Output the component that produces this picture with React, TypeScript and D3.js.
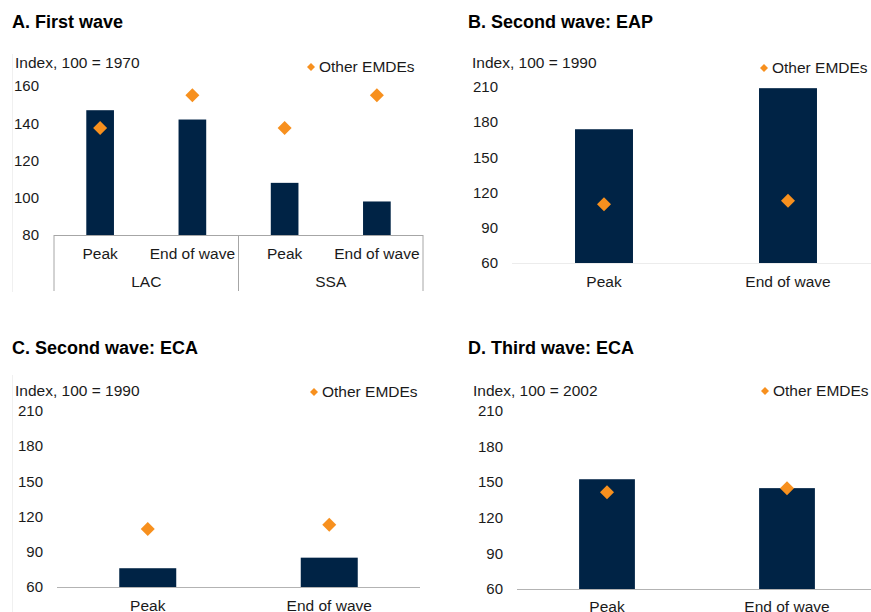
import React from "react";
import * as d3 from "d3";

const NAVY = "#002345";
const ORANGE = "#F7901E";
const FONT = "'Liberation Sans', Arial, sans-serif";

// Panel A
const aCategories = ["LAC|Peak", "LAC|End of wave", "SSA|Peak", "SSA|End of wave"];
const aBars = [147, 142, 108, 98];
const aOther = [137.5, 155, 137.5, 155];
const aTicks = [80, 100, 120, 140, 160];
const aGroups = ["LAC", "SSA"];

// Panels B, C, D
const waveCategories = ["Peak", "End of wave"];
const bBars = [174, 209];
const bOther = [110, 113];
const cBars = [76, 85];
const cOther = [109.5, 113];
const dBars = [152.5, 145];
const dOther = [141.5, 145];
const bcdTicks = [60, 90, 120, 150, 180, 210];

const diamondBig = d3.symbol(d3.symbolSquare, 98)() as string;
const diamondSmall = d3.symbol(d3.symbolSquare, 32)() as string;

type PanelProps = {
  title: string;
  titleX: number;
  titleY: number;
  subtitle: string;
  subX: number;
  subY: number;
  legX: number;
  legY: number;
  cats: string[];
  bars: number[];
  other: number[];
  ticks: number[];
  x0: number;
  x1: number;
  yTop: number;
  yBot: number;
  tickRight: number;
  pad: number;
  axisColor: string;
  labelY: number;
  grouped?: boolean;
};

function Panel(p: PanelProps) {
  const y = d3
    .scaleLinear()
    .domain([p.ticks[0], p.ticks[p.ticks.length - 1]])
    .range([p.yBot, p.yTop]);
  const x = d3
    .scaleBand<string>()
    .domain(p.cats)
    .range([p.x0, p.x1])
    .paddingInner(p.pad)
    .paddingOuter(p.pad / 2);
  const step = x.step();
  const bw = x.bandwidth();
  const cx = (c: string) => (x(c) as number) + bw / 2;
  const labelOf = (c: string) => (p.grouped ? c.split("|")[1] : c);
  return (
    <g fontFamily={FONT}>
      <text x={p.titleX} y={p.titleY} fontSize={18} fontWeight="bold" fill="#000">
        {p.title}
      </text>
      <text x={p.subX} y={p.subY} dy="0.35em" fontSize={15.5} fill="#1a1a1a">
        {p.subtitle}
      </text>
      <path d={diamondSmall} transform={`translate(${p.legX},${p.legY}) rotate(45)`} fill={ORANGE} />
      <text x={p.legX + 8} y={p.legY} dy="0.35em" fontSize={15.5} fill="#1a1a1a">
        Other EMDEs
      </text>
      {p.ticks.map((t) => (
        <text
          key={t}
          x={p.tickRight}
          y={y(t)}
          dy="0.35em"
          textAnchor="end"
          fontSize={15}
          fill="#1a1a1a"
        >
          {t}
        </text>
      ))}
      {p.cats.map((c, i) => (
        <rect
          key={c}
          x={x(c) as number}
          y={y(p.bars[i])}
          width={bw}
          height={y(p.ticks[0]) - y(p.bars[i])}
          fill={NAVY}
        />
      ))}
      <line x1={p.x0} x2={p.x1} y1={p.yBot + 0.5} y2={p.yBot + 0.5} stroke={p.axisColor} strokeWidth={1} />
      {p.grouped && (
        <g>
          {[0, 2, 4].map((k) => {
            const xx = p.x0 + k * step;
            return (
              <line key={k} x1={xx} x2={xx} y1={p.yBot} y2={p.yBot + 56} stroke={p.axisColor} strokeWidth={1} />
            );
          })}
          {aGroups.map((g, gi) => (
            <text
              key={g}
              x={p.x0 + (gi * 2 + 1) * step}
              y={p.labelY + 28}
              dy="0.35em"
              textAnchor="middle"
              fontSize={15.5}
              fill="#1a1a1a"
            >
              {g}
            </text>
          ))}
        </g>
      )}
      {p.cats.map((c, i) => (
        <path
          key={"d" + c}
          d={diamondBig}
          transform={`translate(${cx(c)},${y(p.other[i])}) rotate(45)`}
          fill={ORANGE}
        />
      ))}
      {p.cats.map((c) => (
        <text
          key={"l" + c}
          x={cx(c)}
          y={p.labelY}
          dy="0.35em"
          textAnchor="middle"
          fontSize={15.5}
          fill="#1a1a1a"
        >
          {labelOf(c)}
        </text>
      ))}
    </g>
  );
}

export default function App() {
  return (
    <svg
      width={871}
      height={612}
      style={{ position: "absolute", left: 0, top: 0, background: "#fff" }}
    >
      <rect width={871} height={612} fill="#fff" />
      <line x1={12.5} x2={12.5} y1={54} y2={292} stroke="#f0f0f0" />
      <line x1={12.5} x2={12.5} y1={375} y2={612} stroke="#f0f0f0" />
      <Panel
        title="A. First wave"
        titleX={12}
        titleY={28}
        subtitle="Index, 100 = 1970"
        subX={15}
        subY={63}
        legX={311}
        legY={67}
        cats={aCategories}
        bars={aBars}
        other={aOther}
        ticks={aTicks}
        x0={54}
        x1={423}
        yTop={86}
        yBot={235}
        tickRight={39}
        pad={0.7}
        axisColor="#a6a6a6"
        labelY={254}
        grouped
      />
      <Panel
        title="B. Second wave: EAP"
        titleX={468}
        titleY={28}
        subtitle="Index, 100 = 1990"
        subX={472}
        subY={63}
        legX={764}
        legY={68}
        cats={waveCategories}
        bars={bBars}
        other={bOther}
        ticks={bcdTicks}
        x0={512}
        x1={880}
        yTop={87}
        yBot={263}
        tickRight={498}
        pad={0.685}
        axisColor="#ececec"
        labelY={282}
      />
      <Panel
        title="C. Second wave: ECA"
        titleX={12}
        titleY={354}
        subtitle="Index, 100 = 1990"
        subX={15}
        subY={391}
        legX={314}
        legY={392}
        cats={waveCategories}
        bars={cBars}
        other={cOther}
        ticks={bcdTicks}
        x0={57}
        x1={420}
        yTop={411}
        yBot={587}
        tickRight={43}
        pad={0.686}
        axisColor="#b3b3b3"
        labelY={606}
      />
      <Panel
        title="D. Third wave: ECA"
        titleX={468}
        titleY={354}
        subtitle="Index, 100 = 2002"
        subX={473}
        subY={391}
        legX={765}
        legY={391}
        cats={waveCategories}
        bars={dBars}
        other={dOther}
        ticks={bcdTicks}
        x0={517}
        x1={877}
        yTop={411}
        yBot={589}
        tickRight={503}
        pad={0.69}
        axisColor="#b3b3b3"
        labelY={607}
      />
    </svg>
  );
}
